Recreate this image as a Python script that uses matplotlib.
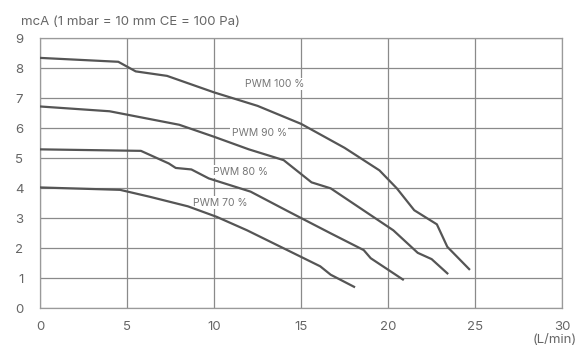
import matplotlib
matplotlib.use('Agg')
import matplotlib.pyplot as plt

plt.rcParams['font.family'] = ['Inter', 'DejaVu Sans']

# 曲線資料 (流量 L/min, 揚程 mcA)
pwm100_x = [0, 4.5, 5.5, 7.3, 10, 12.5, 15, 17.5, 19.5, 20.5, 21.5, 22.8, 23.4, 24.7]
pwm100_y = [8.35, 8.22, 7.9, 7.75, 7.2, 6.75, 6.15, 5.35, 4.6, 4.0, 3.27, 2.8, 2.05, 1.28]

pwm90_x = [0, 4, 8, 10, 12, 14, 15.6, 16.7, 18.5, 20.3, 21.7, 22.5, 23.45]
pwm90_y = [6.73, 6.57, 6.12, 5.72, 5.3, 4.94, 4.2, 4.0, 3.3, 2.6, 1.85, 1.64, 1.14]

pwm80_x = [0, 5.8, 7.4, 7.8, 8.7, 9.7, 12.1, 14.2, 16.7, 18.6, 19.0, 20.9]
pwm80_y = [5.3, 5.25, 4.83, 4.68, 4.63, 4.33, 3.89, 3.25, 2.5, 1.94, 1.67, 0.94]

pwm70_x = [0, 4.6, 6.3, 8.5, 10.15, 11.9, 14, 16.1, 16.7, 18.1]
pwm70_y = [4.03, 3.95, 3.72, 3.4, 3.05, 2.6, 2.0, 1.4, 1.12, 0.7]

curves = [(pwm100_x, pwm100_y), (pwm90_x, pwm90_y), (pwm80_x, pwm80_y), (pwm70_x, pwm70_y)]
labels = ['PWM 100 %', 'PWM 90 %', 'PWM 80 %', 'PWM 70 %']
label_pos = [(13.5, 7.48), (12.6, 5.83), (11.5, 4.55), (10.35, 3.52)]

x_ticks = [0, 5, 10, 15, 20, 25, 30]
y_ticks = list(range(0, 10))

fig = plt.figure(figsize=(5.79, 3.49), dpi=100)
ax = fig.add_axes([0.069, 0.1166, 0.902, 0.7734])

for (xs, ys) in curves:
    ax.plot(xs, ys, color='#555555', linewidth=1.6, zorder=3, solid_capstyle='butt')

for lab, (lx, ly) in zip(labels, label_pos):
    ax.text(lx, ly, lab, fontsize=7.5, color='#777777', ha='center', va='center', zorder=2.5,
            bbox=dict(facecolor='white', edgecolor='none', pad=1.0))

ax.set_xlim(0, 30)
ax.set_ylim(0, 9)
ax.set_xticks(x_ticks)
ax.set_yticks(y_ticks)
ax.grid(True, color='#8a8a8a', linewidth=0.9, zorder=1)
ax.set_axisbelow(True)
ax.tick_params(length=0, labelsize=9.5, colors='#666666')
ax.tick_params(axis='x', pad=9)
ax.tick_params(axis='y', pad=12)
for s in ax.spines.values():
    s.set_color('#9a9a9a')
    s.set_linewidth(0.9)

fig.text(0.036, 0.937, 'mcA (1 mbar = 10 mm CE = 100 Pa)', fontsize=9.5, color='#666666',
         ha='left', va='center')
fig.text(0.997, 0.026, '(L/min)', fontsize=9.5, color='#666666', ha='right', va='center')

plt.savefig('out.png', dpi=100)
